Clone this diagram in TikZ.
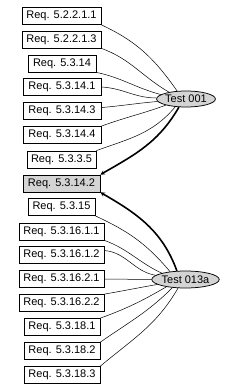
\documentclass[tikz,border=0pt]{standalone}
\usepackage{fontspec}
\setmainfont{Liberation Sans}
\usetikzlibrary{shapes.geometric,arrows.meta}
\begin{document}
\begin{tikzpicture}[x=1pt,y=-1pt,
  req/.style={draw=black,line width=0.75pt,fill=white,rectangle,inner sep=0pt,minimum height=17pt,font=\fontsize{11}{12}\selectfont},
  hl/.style={req,fill=black!17},
  test/.style={draw=black,line width=0.75pt,fill=black!17,ellipse,inner sep=0pt,font=\fontsize{11}{12}\selectfont},
  thin/.style={line width=0.5pt},
  heavy/.style={line width=1.6pt,-{Stealth[length=4.5pt,width=4.5pt]}}]
\useasboundingbox (0,0) rectangle (233,391);
\node[req,minimum width=79pt] (b1) at (61.5,16) {Req. 5.2.2.1.1};
\node[req,minimum width=79pt] (b2) at (61.5,39.5) {Req. 5.2.2.1.3};
\node[req,minimum width=68pt] (b3) at (62,63.5) {Req. 5.3.14};
\node[req,minimum width=78pt] (b4) at (62,87) {Req. 5.3.14.1};
\node[req,minimum width=78pt] (b5) at (62,111) {Req. 5.3.14.3};
\node[req,minimum width=78pt] (b6) at (62,135) {Req. 5.3.14.4};
\node[req,minimum width=69pt] (b7) at (61.5,159.5) {Req. 5.3.3.5};
\node[hl,minimum width=77pt] (b8) at (61.5,183.5) {Req. 5.3.14.2};
\node[req,minimum width=67pt] (b9) at (61.5,207) {Req. 5.3.15};
\node[req,minimum width=85pt] (b10) at (61.5,231.5) {Req. 5.3.16.1.1};
\node[req,minimum width=85pt] (b11) at (61.5,255) {Req. 5.3.16.1.2};
\node[req,minimum width=85pt] (b12) at (61.5,279) {Req. 5.3.16.2.1};
\node[req,minimum width=85pt] (b13) at (61.5,303) {Req. 5.3.16.2.2};
\node[req,minimum width=76pt] (b14) at (62,327) {Req. 5.3.18.1};
\node[req,minimum width=76pt] (b15) at (62,351) {Req. 5.3.18.2};
\node[req,minimum width=76pt] (b16) at (62,375) {Req. 5.3.18.3};
\node[test,minimum width=52pt,minimum height=16pt] (t1) at (186,99) {Test 001};
\node[test,minimum width=61pt,minimum height=17pt] (t2) at (185.5,279.5) {Test 013a};
% Test 001 edges
\draw[thin] (b1.south east) to[out=-25,in=125] (t1.138);
\draw[thin] (b2.south east) to[out=-20,in=150] (t1.158);
\draw[thin] (b3.south east) to[out=-12,in=165] (t1.170);
\draw[thin] (b4.east) to[out=-3,in=180] (t1.178);
\draw[thin] (b5.5) to[out=5,in=185] (t1.185);
\draw[thin] (b6.north east) to[out=20,in=200] (t1.197);
\draw[thin] (b7.north east) to[out=20,in=230] (t1.216);
\draw[heavy] (t1.229) to[out=240,in=30] (b8.north east);
% Test 013a edges
\draw[heavy] (t2.135) to[out=110,in=-30] (b8.south east);
\draw[thin] (b9.south east) to[out=-25,in=130] (t2.153);
\draw[thin] (b10.south east) to[out=-20,in=155] (t2.165);
\draw[thin] (b11.6) to[out=-5,in=170] (t2.172);
\draw[thin] (b12.east) -- (t2.180);
\draw[thin] (b13.north east) to[out=10,in=190] (t2.190);
\draw[thin] (b14.north east) to[out=20,in=210] (t2.201);
\draw[thin] (b15.north east) to[out=35,in=225] (t2.212);
\draw[thin] (b16.north east) to[out=40,in=240] (t2.229);
\end{tikzpicture}
\end{document}
